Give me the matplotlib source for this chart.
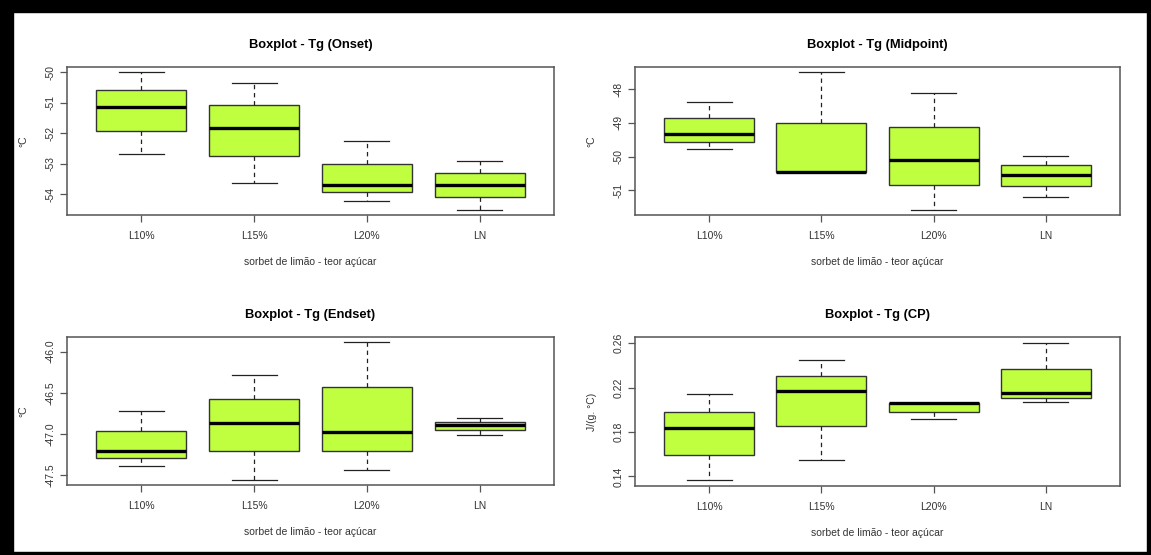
import matplotlib
matplotlib.use('Agg')
import matplotlib.pyplot as plt
from matplotlib.patches import Rectangle

plt.rcParams['font.family'] = ['Liberation Sans', 'DejaVu Sans']
plt.rcParams['axes.unicode_minus'] = False

# grupos (sorbet de limão - teor açúcar)
grupos = ['L10%', 'L15%', 'L20%', 'LN']

# estatísticas: [whisker inf, Q1, mediana, Q3, whisker sup]
onset = [[-52.68, -51.92, -51.14, -50.58, -50.00],
         [-53.64, -52.75, -51.81, -51.08, -50.33],
         [-54.21, -53.94, -53.69, -53.00, -52.26],
         [-54.50, -54.10, -53.69, -53.30, -52.90]]
midpoint = [[-49.78, -49.57, -49.32, -48.85, -48.39],
            [-50.46, -50.46, -50.46, -49.00, -47.51],
            [-51.57, -50.83, -50.10, -49.13, -48.13],
            [-51.20, -50.88, -50.56, -50.26, -49.97]]
endset = [[-47.39, -47.29, -47.20, -46.96, -46.72],
          [-47.55, -47.21, -46.87, -46.57, -46.28],
          [-47.44, -47.20, -46.97, -46.43, -45.89],
          [-47.01, -46.95, -46.89, -46.85, -46.81]]
cp = [[0.1364, 0.1595, 0.1832, 0.1982, 0.2144],
      [0.1550, 0.1856, 0.2171, 0.2306, 0.2450],
      [0.1916, 0.1982, 0.2060, 0.2066, 0.2066],
      [0.2075, 0.2108, 0.2150, 0.2372, 0.2606]]

titulos = ['Boxplot - Tg (Onset)', 'Boxplot - Tg (Midpoint)',
           'Boxplot - Tg (Endset)', 'Boxplot - Tg (CP)']
ylabels = ['°C', '°C', '°C', 'J/(g. °C)']
yticks = [[-54, -53, -52, -51, -50],
          [-51, -50, -49, -48],
          [-47.5, -47.0, -46.5, -46.0],
          [0.14, 0.18, 0.22, 0.26]]
yfmt = ['{:.0f}', '{:.0f}', '{:.1f}', '{:.2f}']
dados = [onset, midpoint, endset, cp]

W, H = 1151, 555
fig = plt.figure(figsize=(W / 100, H / 100), dpi=100)
fig.patch.set_facecolor('white')

# posições dos painéis em pixels (esq, topo, dir, base)
caixas = [(67, 67, 554, 215), (635, 67, 1120, 215),
          (67, 337, 554, 485), (635, 337, 1120, 486)]

cor_caixa = '#C0FF40'
for k in range(4):
    l, t, r, b = caixas[k]
    ax = fig.add_axes([l / W, 1 - b / H, (r - l) / W, (b - t) / H])
    stats = []
    for i, s in enumerate(dados[k]):
        stats.append(dict(whislo=s[0], q1=s[1], med=s[2], q3=s[3], whishi=s[4],
                          fliers=[], label=grupos[i]))
    ax.bxp(stats, positions=[1, 2, 3, 4], widths=0.8, patch_artist=True,
           showfliers=False,
           boxprops=dict(facecolor=cor_caixa, edgecolor='#333333', linewidth=1),
           medianprops=dict(color='black', linewidth=2.4, solid_capstyle='butt'),
           whiskerprops=dict(color='#222222', linewidth=0.9, linestyle=(0, (3.5, 3))),
           capprops=dict(color='#222222', linewidth=0.9),
           capwidths=0.4)
    # limites como no R (+4%)
    lo = min(s[0] for s in dados[k])
    hi = max(s[4] for s in dados[k])
    d = (hi - lo) * 0.04
    ax.set_ylim(lo - d, hi + d)
    ax.set_xlim(0.34, 4.66)
    ax.set_yticks(yticks[k])
    ax.set_yticklabels([yfmt[k].format(v) for v in yticks[k]], rotation=90,
                       va='center')
    ax.set_xticks([1, 2, 3, 4])
    ax.set_xticklabels(grupos)
    for sp in ax.spines.values():
        sp.set_color('#555555')
        sp.set_linewidth(1.1)
    ax.tick_params(axis='both', direction='out', length=5, width=0.9,
                   color='#555555', labelsize=7.5, labelcolor='#333333')
    ax.tick_params(axis='x', pad=6.5)
    ax.tick_params(axis='y', pad=3.5)
    ax.set_title(titulos[k], fontsize=9.3, fontweight='bold', pad=14)
    ax.set_xlabel('sorbet de limão - teor açúcar', fontsize=7.5,
                  color='#333333', labelpad=11.5)
    ax.set_ylabel(ylabels[k], fontsize=7.5, color='#333333', labelpad=12)

# moldura preta da imagem
for (x0, y0, w, h) in [(0, 0, 13, H), (0, H - 12, W, 12),
                       (W - 4, 0, 4, H), (0, 0, W, 3)]:
    fig.add_artist(Rectangle((x0 / W, y0 / H), w / W, h / H, color='black',
                             transform=fig.transFigure, zorder=10))

fig.savefig('out.png', dpi=100)
